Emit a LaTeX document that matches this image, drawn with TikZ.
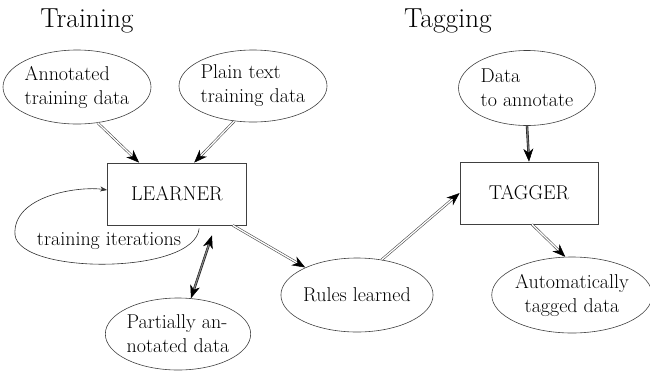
\documentclass[tikz,border=0pt]{standalone}
\usetikzlibrary{shapes.geometric,arrows.meta,calc,decorations.markings}
\begin{document}
\begin{tikzpicture}[x=1pt,y=-1pt,
  txt/.style={font=\fontsize{20}{24}\selectfont},
  oval/.style={ellipse, draw=black!75, line width=0.6pt, inner sep=0pt, txt},
  box/.style={rectangle, draw=black!75, line width=0.7pt, minimum width=139pt, minimum height=62pt, txt},
  title/.style={font=\fontsize{27.5}{32}\selectfont},
  tipend/.style={decoration={markings, mark=at position 1 with {\arrow[black, line width=0.5pt]{Stealth[length=13pt,width=10pt,inset=4pt]}}}, postaction={decorate}},
  dbl/.style={preaction={draw=black!70, double=white, line width=0.6pt, double distance=1.3pt, shorten >=6pt}, tipend},
  dbldark/.style={preaction={draw=black!90, double=black!55, line width=0.6pt, double distance=1.2pt, shorten >=6pt}, tipend},
  dbltwo/.style={preaction={draw=black!90, double=black!50, line width=0.6pt, double distance=1.2pt, shorten >=6pt, shorten <=6pt},
    decoration={markings, mark=at position 0 with {\arrowreversed[black, line width=0.5pt]{Stealth[length=13pt,width=10pt,inset=4pt]}}, mark=at position 1 with {\arrow[black, line width=0.5pt]{Stealth[length=13pt,width=10pt,inset=4pt]}}}, postaction={decorate}},
  loopline/.style={draw=black!80, line width=0.6pt, -{Stealth[length=7pt,width=5pt,inset=2pt]}},
]
\useasboundingbox (0,0) rectangle (650,373);
\node[title] (t1) at (87,21) {Training};
\node[title] (t2) at (448,21) {Tagging};

\node[oval, minimum width=140pt, minimum height=74pt, align=left] (A) at (77,87) {Annotated\\training data};
\node[oval, minimum width=137pt, minimum height=72pt, align=left] (B) at (253,86) {Plain text\\training data};
\node[box] (L) at (177,194) {LEARNER};
\node[txt] (it) at (109,241) {training iterations};
\node[oval, minimum width=133pt, minimum height=72pt, align=left] (P) at (178,334) {Partially an-\\notated data};
\node[oval, minimum width=134pt, minimum height=74pt] (R) at (357,295) {Rules learned};
\node[oval, minimum width=137pt, minimum height=75pt, align=left] (D) at (527,88) {Data\\to annotate};
\node[box, minimum width=138pt] (T) at (529,193) {TAGGER};
\node[oval, minimum width=137pt, minimum height=76pt, align=center] (U) at (572,295) {Automatically\\tagged data};

\coordinate (Ls) at ($(L.south west)+(92,3)$);
\coordinate (Lw) at ($(L.west)+(0,-4)$);

\path[dbl] (A.-60) -- ($(L.north west)+(32,0)$);
\path[dbl] (B.-118) -- ($(L.north west)+(87,0)$);
\path[dbl] ($(L.south east)+(-14,0)$) -- (R.152);
\path[dbl] (R.55) -- (T.west);
\path[dbldark] (D.south) -- (T.north);
\path[dbl] ($(T.south)+(3,0)$) -- (U.100);
\path[dbltwo] (P.70) -- ($(L.south)+(35,10)$);
\draw[loopline] (Ls) .. controls (195,275) and (20,275) .. (15,235) .. controls (12,195) and (80,186) .. (Lw);
\end{tikzpicture}
\end{document}
